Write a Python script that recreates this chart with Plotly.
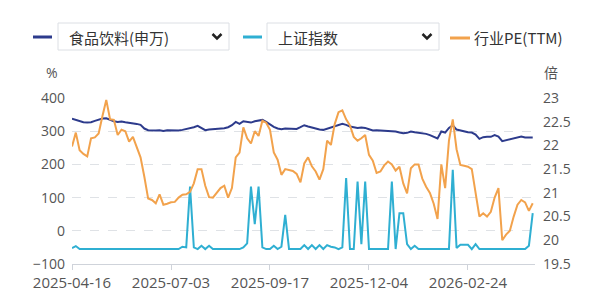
import plotly.graph_objects as go

# ---------------- data ----------------
tick_labels = ["2025-04-16", "2025-07-03", "2025-09-17", "2025-12-04", "2026-02-24"]
tick_index = [0, 26, 52, 78, 104]

food_bev = [338, 334, 330, 327, 326, 327, 331, 335, 338, 339,
            334, 330, 328, 329, 327, 326, 325, 322, 319, 308,
            303, 302, 302, 303, 301, 303, 302, 301, 302, 304,
            306, 309, 312, 316, 310, 303, 305, 306, 308, 307,
            309, 312, 318, 328, 322, 330, 328, 326, 330, 333,
            334, 328, 320, 313, 308, 306, 308, 307, 306, 307,
            312, 318, 314, 311, 307, 305, 304, 308, 312, 316,
            320, 322, 319, 314, 312, 310, 311, 310, 306, 302,
            303, 302, 301, 302, 300, 299, 296, 294, 295, 299,
            297, 296, 294, 292, 288, 283, 278, 299, 296, 310,
            318, 305, 302, 300, 297, 296, 290, 277, 282, 283,
            283, 288, 284, 270, 273, 276, 279, 282, 284, 281,
            280, 281]

sh_index = [-52, -46, -55, -55, -55, -55, -55, -55, -55, -55,
            -55, -55, -55, -55, -55, -55, -55, -55, -55, -55,
            -55, -55, -55, -55, -55, -55, -55, -55, -55, -48,
            -50, 133, -50, -55, -45, -55, -45, -55, -55, -55,
            -55, -55, -55, -55, -55, -50, -38, 133, 20, 133,
            -50, -55, -55, -45, -55, -48, 48, -55, -55, -55,
            -55, -43, -55, -43, -55, -43, -55, -43, -48, -50,
            -55, -50, 159, -55, -55, 148, -40, 148, -55, -55,
            -55, -55, -55, -55, 148, -55, 53, 53, -40, -55,
            -45, -55, -55, -55, -55, -55, -55, -55, -55, -55,
            184, -52, -42, -43, -42, -55, -40, -55, -55, -55,
            -55, -55, -55, -55, -55, -55, -55, -55, -55, -55,
            -45, 53]

pe_ttm = [21.98, 22.27, 21.90, 21.82, 21.77, 22.15, 22.17, 22.25, 22.62, 22.96,
          22.55, 22.54, 22.22, 22.33, 22.30, 22.08, 22.18, 21.97, 21.75, 21.34,
          20.88, 20.85, 20.78, 20.97, 20.75, 20.77, 20.80, 20.81, 20.90, 20.96,
          20.97, 21.02, 21.20, 21.50, 21.50, 21.15, 20.91, 20.90, 20.99, 21.10,
          21.15, 20.90, 21.10, 21.75, 21.85, 22.38, 22.15, 22.04, 22.30, 22.20,
          22.52, 22.48, 22.33, 21.85, 21.70, 21.38, 21.50, 21.48, 21.46, 21.40,
          21.22, 21.62, 21.75, 21.56, 21.45, 21.28, 21.50, 22.10, 22.01, 22.45,
          22.70, 22.74, 22.55, 22.42, 22.18, 22.10, 22.15, 22.22, 21.80, 21.68,
          21.42, 21.45, 21.58, 21.66, 21.60, 21.47, 21.55, 21.20, 20.99, 21.52,
          21.60, 21.60, 21.30, 21.13, 21.00, 20.77, 20.45, 21.60, 21.10, 22.10,
          22.55, 21.92, 21.59, 21.57, 21.55, 21.50, 21.00, 20.50, 20.57, 20.50,
          20.60, 20.90, 21.10, 20.00, 20.12, 20.20, 20.50, 20.75, 20.85, 20.80,
          20.62, 20.78]

idx = list(range(len(food_bev)))

NAVY = "#2d3b8c"
CYAN = "#2fafd2"
ORANGE = "#f2a24c"
TXT = "#555555"

# ---------------- figure ----------------
W, H = 600, 304
L, R, T, B = 72, 65, 98, 40
pw, ph = W - L - R, H - T - B


def px(x):
    return (x - L) / pw


def py(y):
    return (H - B - y) / ph


fig = go.Figure()
fig.add_trace(go.Scatter(x=idx, y=food_bev, mode="lines", name="食品饮料(申万)",
                         line=dict(color=NAVY, width=2), yaxis="y"))
fig.add_trace(go.Scatter(x=idx, y=sh_index, mode="lines", name="上证指数",
                         line=dict(color=CYAN, width=2), yaxis="y"))
fig.add_trace(go.Scatter(x=idx, y=pe_ttm, mode="lines", name="行业PE(TTM)",
                         line=dict(color=ORANGE, width=2), yaxis="y2"))

font_num = "Open Sans, Noto Sans CJK SC, sans-serif"
font_cjk = "Noto Sans CJK SC, sans-serif"

fig.update_layout(
    width=W, height=H,
    margin=dict(l=L, r=R, t=T, b=B),
    paper_bgcolor="white", plot_bgcolor="white",
    showlegend=False,
    xaxis=dict(range=[0, 121.6], tickmode="array", tickvals=tick_index, ticktext=tick_labels,
               showgrid=False, zeroline=False, showline=True, linecolor="#cfd3da", linewidth=1,
               ticks="outside", ticklen=5, tickcolor="#cfd3da",
               tickfont=dict(family=font_num, size=15, color=TXT)),
    yaxis=dict(range=[-100, 400], tickmode="array", tickvals=[-100, 0, 100, 200, 300, 400],
               showgrid=True, gridcolor="#dfe2e6", griddash="dash", gridwidth=1,
               zeroline=False, showline=False, ticks="", ticklabelstandoff=6,
               tickfont=dict(family=font_num, size=14, color=TXT)),
    yaxis2=dict(range=[19.5, 23], overlaying="y", side="right", tickmode="array",
                tickvals=[19.5, 20, 20.5, 21, 21.5, 22, 22.5, 23],
                ticktext=["19.5", "20", "20.5", "21", "21.5", "22", "22.5", "23"],
                showgrid=False, zeroline=False, showline=False, ticks="", ticklabelstandoff=7,
                tickfont=dict(family=font_num, size=14, color=TXT)),
)

shapes = []
annotations = []

# unit labels
annotations.append(dict(x=px(60), y=py(72), xref="paper", yref="paper", text="%",
                        showarrow=False, xanchor="right", yanchor="middle",
                        font=dict(family=font_num, size=14, color=TXT)))
annotations.append(dict(x=px(542), y=py(72), xref="paper", yref="paper", text="倍",
                        showarrow=False, xanchor="left", yanchor="middle",
                        font=dict(family=font_cjk, size=14, color=TXT)))

# legend: markers, boxes, texts, chevrons
for (x0, x1, yy, col) in [(33, 52, 37, NAVY), (243, 262, 37, CYAN), (450, 470, 38, ORANGE)]:
    shapes.append(dict(type="line", xref="paper", yref="paper", x0=px(x0), x1=px(x1),
                       y0=py(yy), y1=py(yy), line=dict(color=col, width=3)))

for (x0, x1) in [(58, 229), (267, 439)]:
    shapes.append(dict(type="rect", xref="paper", yref="paper", x0=px(x0), x1=px(x1),
                       y0=py(50), y1=py(23), line=dict(color="#dcdfe4", width=1),
                       fillcolor="white"))

for cx in [217, 427]:
    path = "M {} {} L {} {} L {} {}".format(px(cx - 4.5), py(34), px(cx), py(38.5), px(cx + 4.5), py(34))
    shapes.append(dict(type="path", xref="paper", yref="paper", path=path,
                       line=dict(color="#222222", width=2.5)))

for (tx, ty, label) in [(67, 37, "食品饮料(申万)"), (276, 37, "上证指数"), (472, 38, "行业PE(TTM)")]:
    annotations.append(dict(x=px(tx), y=py(ty), xref="paper", yref="paper", text=label,
                            showarrow=False, xanchor="left", yanchor="middle",
                            font=dict(family=font_cjk, size=15, color="#333333")))

fig.update_layout(shapes=shapes, annotations=annotations)

fig.write_html("out.html")
